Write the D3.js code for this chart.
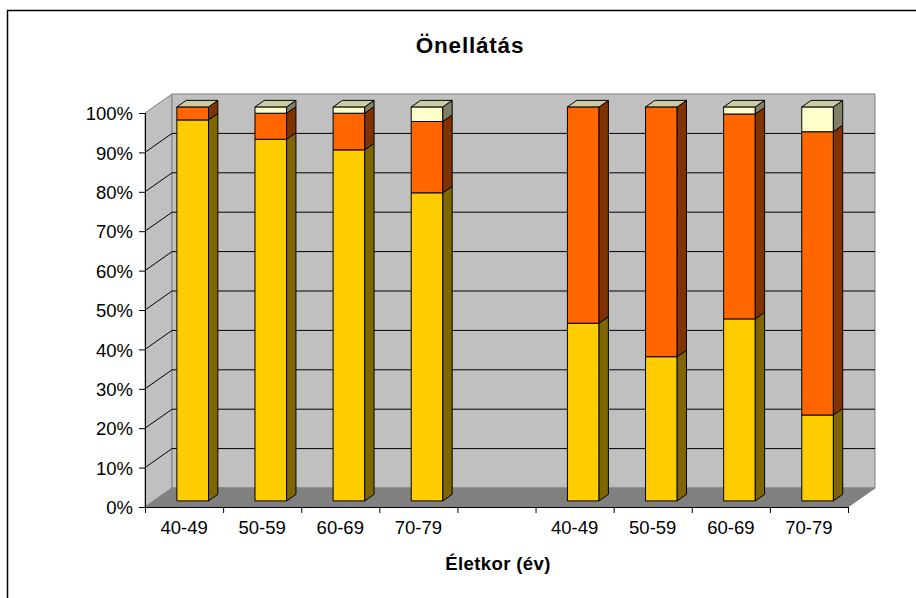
<!DOCTYPE html>
<html>
<head>
<meta charset="utf-8">
<script src="https://cdn.jsdelivr.net/npm/d3@7"></script>
<style>
  html, body { margin: 0; padding: 0; background: #fff; }
  svg { display: block; }
  text { font-family: "Liberation Sans", Arial, sans-serif; fill: #000; }
</style>
</head>
<body>
<script>
// Age groups along the x axis (the empty slot separates the two groups)
const categories = ["40-49", "50-59", "60-69", "70-79", "", "40-49", "50-59", "60-69", "70-79"];

// Stacked shares in percent, bottom to top
const seriesYellow = [96.7, 91.8, 89.1, 78.2, null, 45.1, 36.6, 46.2, 21.8];
const seriesOrange = [3.3, 6.6, 9.3, 18.1, null, 54.9, 63.4, 52.0, 71.9];
const seriesLight  = [0.0, 1.6, 1.6, 3.7, null, 0.0, 0.0, 1.8, 6.3];

const yTickValues = [0, 10, 20, 30, 40, 50, 60, 70, 80, 90, 100];

const chartTitle = "Önellátás";
const xAxisTitle = "Életkor (év)";

// Face colours per series: front, side, top
const palette = [
  { front: "#FFCC00", side: "#806600", top: "#CCA300" },
  { front: "#FF6600", side: "#803300", top: "#CC5200" },
  { front: "#FFFFCC", side: "#808066", top: "#CCCCA3" }
];

const W = 916, H = 598;
const svg = d3.select("body").append("svg").attr("width", W).attr("height", H);

// Outer frame of the chart
svg.append("rect")
  .attr("x", 7.5).attr("y", 10.5).attr("width", W + 20).attr("height", H + 20)
  .attr("fill", "#fff").attr("stroke", "#000").attr("stroke-width", 1.5);

// Front plane of the 3D plot
const plotLeft = 145, plotRight = 848, plotTop = 113, plotBottom = 507;
// Depth offset of the back wall
const DX = 27, DY = 19;
const proj = (px, py, d) => [px + DX * d, py - DY * d];
const poly = pts => pts.map(p => p.join(",")).join(" ");

const x = d3.scaleBand().domain(d3.range(categories.length)).range([plotLeft, plotRight]);
const y = d3.scaleLinear().domain([0, 100]).range([plotBottom, plotTop]);

const g = svg.append("g");

// Left wall
g.append("polygon")
  .attr("points", poly([proj(plotLeft, plotBottom, 0), proj(plotLeft, plotBottom, 1), proj(plotLeft, plotTop, 1), proj(plotLeft, plotTop, 0)]))
  .attr("fill", "#C0C0C0").attr("stroke", "#808080").attr("stroke-width", 1);

// Back wall
g.append("polygon")
  .attr("points", poly([proj(plotLeft, plotBottom, 1), proj(plotRight, plotBottom, 1), proj(plotRight, plotTop, 1), proj(plotLeft, plotTop, 1)]))
  .attr("fill", "#C0C0C0").attr("stroke", "#808080").attr("stroke-width", 1);

// Gridlines across the left and back walls
yTickValues.filter(v => v > 0 && v < 100).forEach(v => {
  const a = proj(plotLeft, y(v), 0), b = proj(plotLeft, y(v), 1), c = proj(plotRight, y(v), 1);
  g.append("polyline").attr("points", poly([a, b, c]))
    .attr("fill", "none").attr("stroke", "#000").attr("stroke-width", 1);
});

// Floor
g.append("polygon")
  .attr("points", poly([proj(plotLeft, plotBottom, 0), proj(plotRight, plotBottom, 0), proj(plotRight, plotBottom, 1), proj(plotLeft, plotBottom, 1)]))
  .attr("fill", "#808080").attr("stroke", "#808080").attr("stroke-width", 1);

// Bars
const barRatio = 0.405;
const d0 = 0.32, d1 = 0.665;
const barW = x.bandwidth() * barRatio;
const series = [seriesYellow, seriesOrange, seriesLight];

categories.forEach((cat, i) => {
  if (seriesYellow[i] == null) return;
  const total = series.reduce((s, arr) => s + arr[i], 0);
  const x0 = x(i) + (x.bandwidth() - barW) / 2;
  const x1 = x0 + barW;
  let acc = 0;
  const bar = g.append("g");
  series.forEach((arr, si) => {
    const v = arr[i] / total * 100;
    const yb = y(acc), yt = y(acc + v);
    acc += v;
    const col = palette[si];
    if (v > 0) {
      // front face
      bar.append("polygon")
        .attr("points", poly([proj(x0, yb, d0), proj(x1, yb, d0), proj(x1, yt, d0), proj(x0, yt, d0)]))
        .attr("fill", col.front).attr("stroke", "#000").attr("stroke-width", 1).attr("stroke-linejoin", "round");
      // side face
      bar.append("polygon")
        .attr("points", poly([proj(x1, yb, d0), proj(x1, yb, d1), proj(x1, yt, d1), proj(x1, yt, d0)]))
        .attr("fill", col.side).attr("stroke", "#000").attr("stroke-width", 1).attr("stroke-linejoin", "round");
    }
    if (si === series.length - 1) {
      // top face of the stack
      bar.append("polygon")
        .attr("points", poly([proj(x0, yt, d0), proj(x1, yt, d0), proj(x1, yt, d1), proj(x0, yt, d1)]))
        .attr("fill", col.top).attr("stroke", "#000").attr("stroke-width", 1).attr("stroke-linejoin", "round");
    }
  });
});

// Y axis
const yAxis = d3.axisLeft(y)
  .tickValues(yTickValues)
  .tickFormat(d => d + "%")
  .tickSize(6).tickPadding(6);
const ya = svg.append("g").attr("transform", `translate(${plotLeft},0)`).call(yAxis);
ya.select(".domain").attr("stroke", "#000").attr("stroke-width", 1);
ya.selectAll(".tick line").attr("stroke", "#000");
ya.selectAll(".tick text").attr("font-size", 18.5).attr("font-family", "Liberation Sans, Arial, sans-serif").attr("dy", "0.36em");

// X axis: tick marks at category boundaries, labels at category centres
const xb = d3.scaleLinear().domain([0, categories.length]).range([plotLeft, plotRight]);
const xAxisTicks = d3.axisBottom(xb).tickValues(d3.range(categories.length + 1)).tickFormat("").tickSize(6);
const xa = svg.append("g").attr("transform", `translate(0,${plotBottom})`).call(xAxisTicks);
xa.select(".domain").attr("stroke", "#000").attr("stroke-width", 1);
xa.selectAll(".tick line").attr("stroke", "#000");

const xAxisLabels = d3.axisBottom(x).tickFormat(i => categories[i]).tickSize(0).tickPadding(14);
const xl = svg.append("g").attr("transform", `translate(0,${plotBottom})`).call(xAxisLabels);
xl.select(".domain").remove();
xl.selectAll(".tick text").attr("font-size", 18.5).attr("font-family", "Liberation Sans, Arial, sans-serif");

// Titles
svg.append("text")
  .attr("x", 470).attr("y", 53)
  .attr("text-anchor", "middle")
  .attr("font-size", 22.5).attr("font-weight", "bold")
  .attr("letter-spacing", 0.8)
  .text(chartTitle);

svg.append("text")
  .attr("x", 498).attr("y", 570)
  .attr("text-anchor", "middle")
  .attr("font-size", 18.5).attr("font-weight", "bold")
  .attr("letter-spacing", 0.4)
  .text(xAxisTitle);
</script>
</body>
</html>
